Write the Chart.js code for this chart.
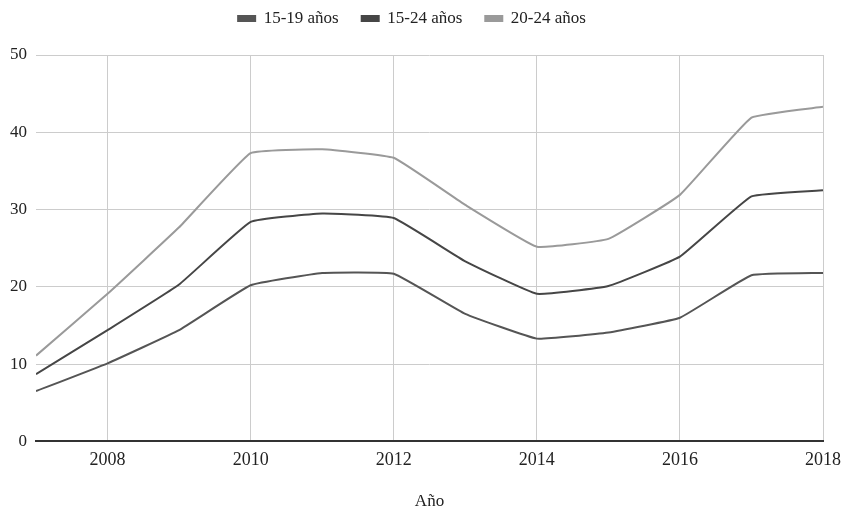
<!DOCTYPE html>
<html>
<head>
<meta charset="utf-8">
<script src="https://cdn.jsdelivr.net/npm/chart.js@4"></script>
<style>
  html, body { margin: 0; padding: 0; background: #fff; }
  #wrap { width: 842px; height: 507px; }
</style>
</head>
<body>
<div id="wrap"><canvas id="chart" width="842" height="507"></canvas></div>
<script>
  const years = [2007, 2008, 2009, 2010, 2011, 2012, 2013, 2014, 2015, 2016, 2017, 2018];
  const xTicks = [2008, 2010, 2012, 2014, 2016, 2018];
  const yTicks = [0, 10, 20, 30, 40, 50];
  const age15to19 = [6.5, 10.1, 14.4, 20.2, 21.8, 21.7, 16.5, 13.3, 14.1, 16.0, 21.5, 21.8];
  const age15to24 = [8.7, 14.4, 20.3, 28.4, 29.5, 28.9, 23.3, 19.1, 20.1, 23.9, 31.7, 32.5];
  const age20to24 = [11.1, 19.1, 27.7, 37.3, 37.8, 36.7, 30.6, 25.2, 26.2, 31.9, 41.9, 43.3];

  const SERIF = '"Liberation Serif", "DejaVu Serif", serif';

  function toPoints(values) {
    return values.map((v, i) => ({ x: years[i], y: v }));
  }

  function lineSet(label, values, color) {
    return {
      label,
      data: toPoints(values),
      borderColor: color,
      backgroundColor: color,
      borderWidth: 2,
      pointRadius: 0,
      tension: 0.1,
    };
  }

  // extra room under the legend
  const legendGap = {
    id: 'legendGap',
    beforeInit(chart) {
      const fit = chart.legend.fit;
      chart.legend.fit = function () {
        fit.call(this);
        this.height += 18;
      };
    },
  };

  new Chart(document.getElementById('chart'), {
    type: 'line',
    data: {
      datasets: [
        lineSet('15-19 años', age15to19, '#555555'),
        lineSet('15-24 años', age15to24, '#464646'),
        lineSet('20-24 años', age20to24, '#9a9a9a'),
      ],
    },
    plugins: [legendGap],
    options: {
      responsive: false,
      animation: false,
      layout: { padding: { left: 1, right: 19, top: -13, bottom: -3 } },
      plugins: {
        legend: {
          position: 'top',
          labels: {
            boxWidth: 17,
            boxHeight: 5,
            padding: 23,
            color: '#222',
            font: { family: SERIF, size: 17 },
          },
        },
        tooltip: { enabled: false },
      },
      scales: {
        x: {
          type: 'linear',
          min: 2007,
          max: 2018,
          afterBuildTicks: axis => { axis.ticks = xTicks.map(v => ({ value: v })); },
          afterFit: axis => { axis.paddingRight = 0; axis.paddingLeft = 0; },
          grid: { color: '#cccccc', lineWidth: 1, drawTicks: false },
          border: { color: '#333333', width: 2 },
          ticks: {
            color: '#222',
            padding: 8,
            maxRotation: 0,
            font: { family: SERIF, size: 18 },
            callback: v => String(v),
          },
          title: {
            display: true,
            text: 'Año',
            color: '#222',
            padding: { top: 14, bottom: 0 },
            font: { family: SERIF, size: 17, lineHeight: 1 },
          },
        },
        y: {
          min: 0,
          max: 50,
          afterBuildTicks: axis => { axis.ticks = yTicks.map(v => ({ value: v })); },
          grid: { color: '#cccccc', lineWidth: 1, drawTicks: false },
          border: { display: false },
          ticks: {
            color: '#222',
            padding: 9,
            font: { family: SERIF, size: 17 },
          },
        },
      },
    },
  });
</script>
</body>
</html>
